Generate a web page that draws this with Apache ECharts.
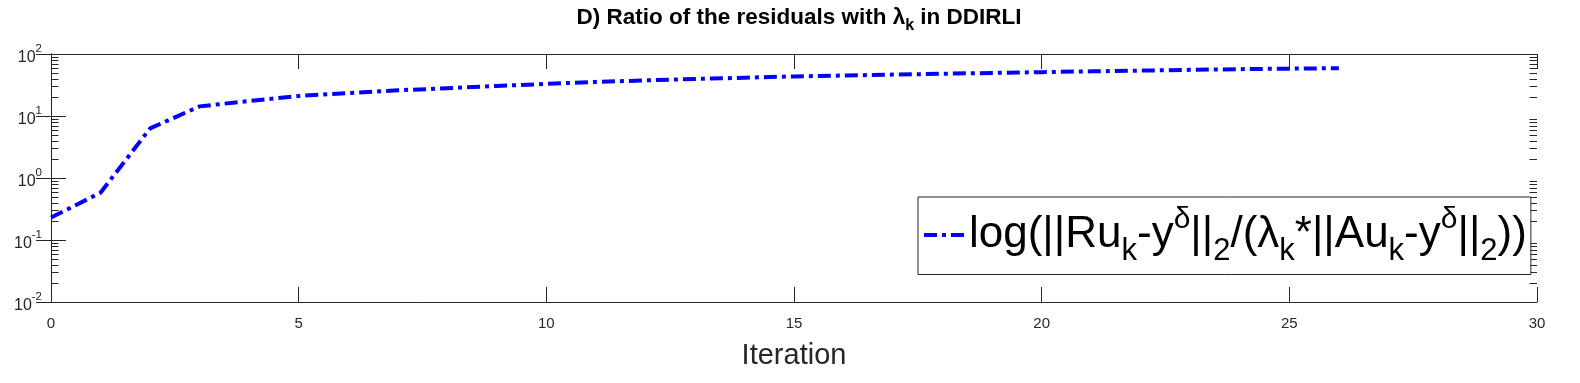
<!DOCTYPE html>
<html><head><meta charset="utf-8">
<script src="https://cdn.jsdelivr.net/npm/echarts@6/dist/echarts.min.js"></script>
<style>html,body{margin:0;padding:0;background:#fff}#c{width:1580px;height:383px}</style>
</head><body><div id="c"></div>
<script>
// ---- data ----
const iterations = [0,1,2,3,4,5,6,7,8,9,10,11,12,13,14,15,16,17,18,19,20,21,22,23,24,25,26];
const ratioValues = [0.23,0.58,6.3,14.3,17.5,21,23.5,26,28,30.5,33,35.5,37.5,39.5,41.5,43.5,45,46.5,48,49.5,51,52.5,54,55.5,57,58,59];
const xTickLabels = ['0','5','10','15','20','25','30'];
const yDecades = [0.01,0.1,1,10,100];
const yMinorTicks = [0.02,0.03,0.04,0.05,0.06,0.07,0.08,0.09,0.2,0.3,0.4,0.5,0.6,0.7,0.8,0.9,2,3,4,5,6,7,8,9,20,30,40,50,60,70,80,90];
const seriesName = 'ratio';
const titleText = '{t|D) Ratio of the residuals with λ}{s|k}{t| in DDIRLI}';
const legendText = '{a|log(||Ru}{sub|k}{a|-y}{sup|δ}{a|||}{sub|2}{a|/(λ}{sub|k}{a|*||Au}{sub|k}{a|-y}{sup|δ}{a|||}{sub|2}{a|))}';

const axisColor = '#262626';
const lineColor = '#0000FF';
const dashPattern = [13, 5, 4, 5];
const chart = echarts.init(document.getElementById('c'));

function yLabel(v) {
  const e = Math.round(Math.log10(v));
  if (!yDecades.some(d => Math.abs(Math.log10(d) - e) < 1e-6)) return '';
  return '{b|10}{e|' + e + '}';
}

const option = {
  animation: false,
  backgroundColor: '#fff',
  title: {
    text: titleText,
    left: 794, top: -3, textAlign: 'center',
    textStyle: {
      rich: {
        t: {fontFamily: 'Liberation Sans', fontWeight: 'bold', fontSize: 22.5, color: '#000'},
        s: {fontFamily: 'Liberation Sans', fontWeight: 'bold', fontSize: 16, color: '#000', padding: [16, 0, 0, 0]}
      }
    }
  },
  grid: {left: 51, right: 43, top: 54, bottom: 81, containLabel: false, outerBoundsMode: 'none'},
  legend: {
    data: [{name: seriesName, itemStyle: {opacity: 0}}],
    left: 918, top: 197,
    orient: 'vertical',
    backgroundColor: '#fff',
    borderColor: axisColor, borderWidth: 1, borderRadius: 0,
    padding: [8, 4, 8, 4],
    itemWidth: 40, itemHeight: 14, itemGap: 0,
    itemStyle: {opacity: 0},
    lineStyle: {color: lineColor, width: 4, type: dashPattern, cap: 'butt', opacity: 1},
    formatter: () => legendText,
    textStyle: {
      rich: {
        a: {fontFamily: 'Liberation Sans', fontSize: 44, color: '#000'},
        sub: {fontFamily: 'Liberation Sans', fontSize: 31, color: '#000', padding: [32, 0, 0, 0]},
        sup: {fontFamily: 'Liberation Sans', fontSize: 30, color: '#000', padding: [0, 0, 30, 0]}
      }
    }
  },
  xAxis: [{
    type: 'value', min: 0, max: 30, interval: 5,
    name: 'Iteration', nameLocation: 'middle', nameGap: 39,
    nameTextStyle: {fontFamily: 'Liberation Sans', fontSize: 29, color: axisColor},
    axisLine: {show: true, lineStyle: {color: axisColor, width: 1}},
    axisTick: {show: true, inside: true, length: 15, lineStyle: {color: axisColor}},
    axisLabel: {show: true, margin: 14, fontFamily: 'Liberation Sans', fontSize: 15, color: axisColor,
      formatter: v => xTickLabels[Math.round(v / 5)]},
    splitLine: {show: false}
  }, {
    type: 'value', min: 0, max: 30, interval: 5, position: 'top',
    axisLine: {show: true, lineStyle: {color: axisColor, width: 1}},
    axisTick: {show: true, inside: true, length: 15, lineStyle: {color: axisColor}},
    axisLabel: {show: false}, splitLine: {show: false}
  }],
  yAxis: [{
    type: 'log', logBase: 10, min: 0.01, max: 100, splitNumber: 4,
    axisLine: {show: true, lineStyle: {color: axisColor, width: 1}},
    axisTick: {show: true, inside: true, length: 15, lineStyle: {color: axisColor}},
    axisLabel: {show: true, margin: 9, formatter: yLabel,
      rich: {
        b: {fontFamily: 'Liberation Sans', fontSize: 16, color: axisColor, padding: [7, 0, 0, 0]},
        e: {fontFamily: 'Liberation Sans', fontSize: 11.5, color: axisColor, padding: [0, 0, 10, 0]}
      }},
    splitLine: {show: false}
  }, {
    type: 'log', logBase: 10, min: 0.01, max: 100, splitNumber: 4, position: 'right',
    axisLine: {show: true, lineStyle: {color: axisColor, width: 1}},
    axisTick: {show: true, inside: true, length: 15, lineStyle: {color: axisColor}},
    axisLabel: {show: false}, splitLine: {show: false}
  }],
  series: [{
    name: seriesName,
    type: 'line',
    xAxisIndex: 0, yAxisIndex: 0,
    data: iterations.map((x, i) => [x, ratioValues[i]]),
    symbol: 'none',
    lineStyle: {color: lineColor, width: 4, type: dashPattern, cap: 'butt', join: 'round'},
    itemStyle: {color: lineColor},
    z: 3
  }, {
    name: 'minorTicks',
    type: 'custom',
    xAxisIndex: 0, yAxisIndex: 0,
    silent: true, clip: false,
    data: yMinorTicks.map(v => [0, v]),
    renderItem: function (params, api) {
      const cs = params.coordSys;
      const y = Math.round(api.coord([0, api.value(1)])[1]) + 0.5;
      return {type: 'group', children: [
        {type: 'line', shape: {x1: cs.x, y1: y, x2: cs.x + 7.5, y2: y}, style: {stroke: axisColor, lineWidth: 1}},
        {type: 'line', shape: {x1: cs.x + cs.width, y1: y, x2: cs.x + cs.width - 7.5, y2: y}, style: {stroke: axisColor, lineWidth: 1}}
      ]};
    },
    z: 2
  }]
};
chart.setOption(option);
</script>
</body></html>
